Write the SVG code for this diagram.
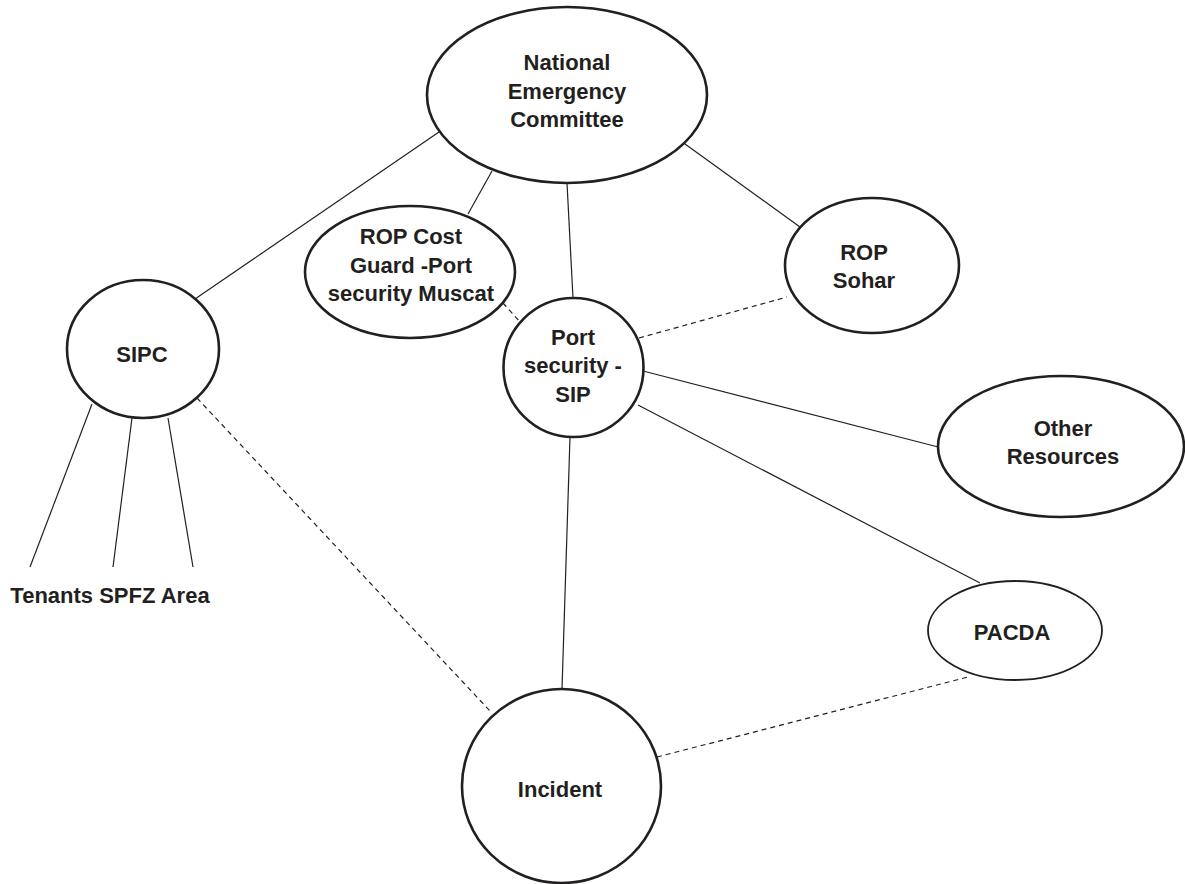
<svg xmlns="http://www.w3.org/2000/svg" width="1185" height="884" viewBox="0 0 1185 884">
<style>
.node{fill:#fff;stroke:#231f20;stroke-width:2.6}
.lbl{font-family:"Liberation Sans",Arial,sans-serif;font-weight:bold;font-size:22px;fill:#231f20;text-anchor:middle}
.ln{stroke:#231f20;stroke-width:1.2;fill:none}
.dash{stroke-dasharray:5,4}
</style>
<rect width="1185" height="884" fill="#fff"/>
<g id="connectors">
<line class="ln" x1="439" y1="132" x2="195" y2="299"/>
<line class="ln" x1="492" y1="171" x2="468" y2="214"/>
<line class="ln" x1="567" y1="183" x2="573" y2="298"/>
<line class="ln" x1="685" y1="144" x2="800" y2="227"/>
<line class="ln dash" x1="503" y1="303" x2="520" y2="322"/>
<line class="ln dash" x1="639" y1="338" x2="787" y2="297"/>
<line class="ln" x1="643" y1="371" x2="942" y2="448"/>
<line class="ln" x1="638" y1="405" x2="980" y2="583"/>
<line class="ln" x1="570" y1="437" x2="562" y2="689"/>
<line class="ln dash" x1="197" y1="398" x2="490" y2="711"/>
<line class="ln dash" x1="657" y1="757" x2="968" y2="677"/>
<line class="ln" x1="92" y1="404" x2="30" y2="567"/>
<line class="ln" x1="132" y1="418" x2="113" y2="567"/>
<line class="ln" x1="168" y1="418" x2="193" y2="567"/>
</g>
<g id="nec">
<ellipse class="node" cx="567" cy="95" rx="140" ry="88"/>
<text class="lbl" x="567" y="70">National</text>
<text class="lbl" x="567" y="99">Emergency</text>
<text class="lbl" x="567" y="127">Committee</text>
</g>
<g id="rop-coast-guard">
<ellipse class="node" cx="410" cy="272" rx="105" ry="66"/>
<text class="lbl" x="411" y="244">ROP Cost</text>
<text class="lbl" x="411" y="273">Guard -Port</text>
<text class="lbl" x="411" y="301">security Muscat</text>
</g>
<g id="port-security">
<ellipse class="node" cx="573.5" cy="367.5" rx="70" ry="69.5"/>
<text class="lbl" x="573" y="345">Port</text>
<text class="lbl" x="573" y="373">security -</text>
<text class="lbl" x="573" y="402">SIP</text>
</g>
<g id="rop-sohar">
<ellipse class="node" cx="872" cy="265.5" rx="87" ry="67.5"/>
<text class="lbl" x="864" y="260">ROP</text>
<text class="lbl" x="864" y="288">Sohar</text>
</g>
<g id="sipc">
<ellipse class="node" cx="143" cy="349" rx="76" ry="69"/>
<text class="lbl" x="142" y="362">SIPC</text>
</g>
<g id="tenants">
<text class="lbl" x="110" y="603">Tenants SPFZ Area</text>
</g>
<g id="other-resources">
<ellipse class="node" cx="1061" cy="446.5" rx="123" ry="70.5"/>
<text class="lbl" x="1063" y="436">Other</text>
<text class="lbl" x="1063" y="464">Resources</text>
</g>
<g id="pacda">
<ellipse class="node" cx="1015" cy="630.5" rx="87" ry="49.5" style="stroke-width:1.8"/>
<text class="lbl" x="1012" y="640">PACDA</text>
</g>
<g id="incident">
<ellipse class="node" cx="561.5" cy="786" rx="99.5" ry="97"/>
<text class="lbl" x="560" y="797">Incident</text>
</g>
</svg>
